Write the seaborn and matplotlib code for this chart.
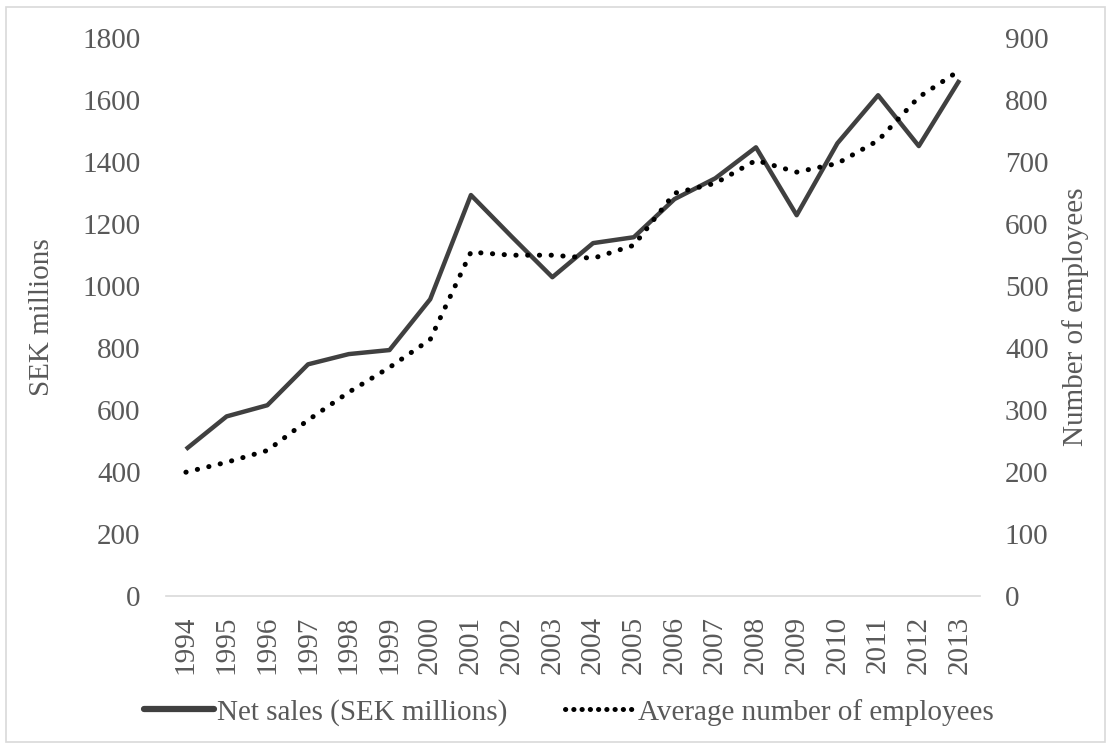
import pandas as pd
import numpy as np
import matplotlib.pyplot as plt
import seaborn as sns
from matplotlib.lines import Line2D
from matplotlib.patches import Rectangle

# Data
years = [str(y) for y in range(1994, 2014)]
net_sales = [474, 580, 616, 748, 781, 794, 958, 1294, 1160, 1029,
             1139, 1158, 1281, 1348, 1448, 1229, 1461, 1616, 1452, 1665]
employees = [200, 216, 235, 284, 329, 369, 414, 555, 550, 550,
             545, 566, 650, 666, 703, 684, 698, 735, 805, 848]

df = pd.DataFrame({'Year': years, 'Net sales': net_sales, 'Employees': employees})
df['x'] = np.arange(len(years))

sns.set_style('white')
plt.rcParams['font.family'] = ['Liberation Serif', 'DejaVu Serif']
txt = '#595959'

fig = plt.figure(figsize=(11.11, 7.49), dpi=100)
ax = fig.add_axes([0.149, 0.204, 0.733, 0.745])
ax2 = ax.twinx()

sns.lineplot(data=df, x='x', y='Net sales', ax=ax, color='#404040', linewidth=3.2,
             solid_capstyle='butt', legend=False)
sns.lineplot(data=df, x='x', y='Employees', ax=ax2, color='black', linewidth=3.6,
             linestyle=(0, (0.05, 2.3)), dash_capstyle='round', legend=False)

ax.set_xlim(-0.5, len(years) - 0.5)
ax.set_ylim(0, 1800)
ax2.set_ylim(0, 900)
ax.set_yticks(range(0, 1801, 200))
ax2.set_yticks(range(0, 901, 100))
ax.set_xticks(df['x'])
ax.set_xticklabels(years, rotation=90)

for a in (ax, ax2):
    for s in a.spines.values():
        s.set_visible(False)
    a.tick_params(length=0, labelsize=21, colors=txt)
    a.tick_params(axis='y', pad=18)
ax.tick_params(axis='x', pad=14)
ax.spines['bottom'].set_visible(True)
ax.spines['bottom'].set_color('#d9d9d9')
ax.spines['bottom'].set_linewidth(1.2)

ax.set_xlabel('')
ax.set_ylabel('SEK millions', fontsize=21, color=txt, labelpad=20)
ax2.set_ylabel('Number of employees', fontsize=21, color=txt, labelpad=10)

handles = [Line2D([], [], color='#404040', linewidth=4.5),
           Line2D([], [], color='black', linewidth=3.6, linestyle=(0, (0.05, 1.6)),
                  dash_capstyle='round')]
leg = fig.legend(handles, ['Net sales (SEK millions)', 'Average number of employees'],
                 loc='center', bbox_to_anchor=(0.512, 0.049), ncol=2, frameon=False,
                 fontsize=21, handlelength=2.4, handletextpad=0.1, columnspacing=2.0)
for t in leg.get_texts():
    t.set_color(txt)

fig.patches.append(Rectangle((0.005, 0.01), 0.99, 0.98, transform=fig.transFigure,
                             fill=False, edgecolor='#d9d9d9', linewidth=1.2))

plt.savefig('out.png', dpi=100)
